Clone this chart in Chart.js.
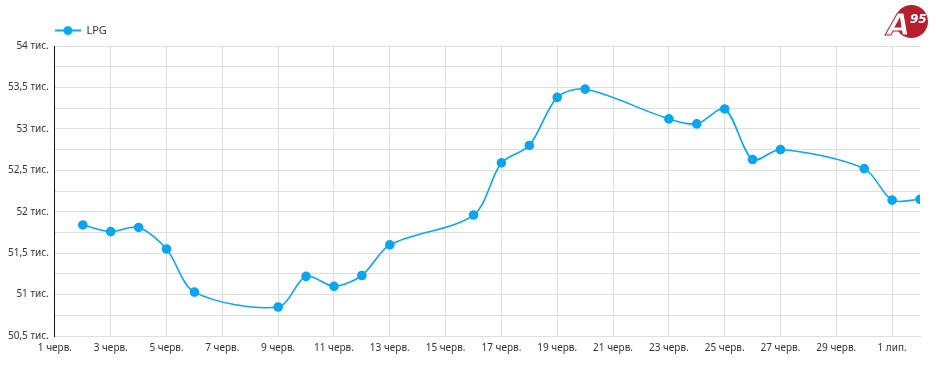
<!DOCTYPE html>
<html>
<head>
<meta charset="utf-8">
<script src="https://cdn.jsdelivr.net/npm/chart.js@4"></script>
<style>
  html, body { margin: 0; padding: 0; background: #fff; }
  #wrap { position: relative; width: 936px; height: 368px; }
  #logo { position: absolute; left: 895px; top: 5px; width: 33px; height: 33px; border-radius: 50%; background: #b71f2e; }
  #logo .a { position: absolute; left: -8px; top: 5px; line-height: 1; font: italic 900 30px/1 "DejaVu Sans", sans-serif; color: #fff; -webkit-text-stroke: 1px #b71f2e; }
  #logo .n { position: absolute; left: 15px; top: 8px; font: italic 700 12px/1 "DejaVu Sans", sans-serif; color: #fff; }
</style>
</head>
<body>
<div id="wrap">
  <canvas id="chart" width="936" height="368"></canvas>
  <div id="logo"><span class="a">A</span><span class="n">95</span></div>
</div>
<script>
// day index counted from 1 June (31 = 1 July, 32 = 2 July)
const days = [2, 3, 4, 5, 6, 9, 10, 11, 12, 13, 16, 17, 18, 19, 20, 23, 24, 25, 26, 27, 30, 31, 32];
const prices = [51840, 51760, 51810, 51550, 51030, 50850, 51220, 51100, 51230, 51600, 51960, 52590, 52800,
  53380, 53480, 53120, 53060, 53240, 52630, 52750, 52520, 52140, 52150];
const xTickDays = [1, 3, 5, 7, 9, 11, 13, 15, 17, 19, 21, 23, 25, 27, 29, 31];
const xTickLabels = ['1 черв.', '3 черв.', '5 черв.', '7 черв.', '9 черв.', '11 черв.', '13 черв.', '15 черв.',
  '17 черв.', '19 черв.', '21 черв.', '23 черв.', '25 черв.', '27 черв.', '29 черв.', '1 лип.'];

const blue = '#0aa6ef';

// legend marker: line with a dot
const marker = document.createElement('canvas');
marker.width = 26; marker.height = 10;
const mc = marker.getContext('2d');
mc.strokeStyle = blue; mc.lineWidth = 2;
mc.beginPath(); mc.moveTo(0, 5); mc.lineTo(26, 5); mc.stroke();
mc.fillStyle = blue;
mc.beginPath(); mc.arc(13, 5, 4.5, 0, Math.PI * 2); mc.fill();

const fmtY = v => (v / 1000).toString().replace('.', ',') + ' тис.';

// move the legend so it starts at the plot's left edge
const legendShift = {
  id: 'legendShift',
  beforeDraw(chart) {
    if (chart.legend) chart.legend.left = chart.chartArea.left - 8;
  }
};

new Chart(document.getElementById('chart'), {
  type: 'line',
  data: {
    datasets: [{
      label: 'LPG',
      data: days.map((d, i) => ({ x: d, y: prices[i] })),
      borderColor: blue,
      backgroundColor: blue,
      borderWidth: 1.6,
      pointRadius: 4,
      pointHoverRadius: 4,
      tension: 0.3
    }]
  },
  options: {
    responsive: false,
    animation: false,
    layout: { padding: { left: 2, right: 16, top: 17, bottom: 8 } },
    scales: {
      x: {
        type: 'linear',
        min: 1,
        max: 32,
        afterBuildTicks: scale => { scale.ticks = xTickDays.map(v => ({ value: v })); },
        grid: { color: '#dedede', drawTicks: false },
        border: { color: '#dedede' },
        ticks: {
          padding: 6,
          maxRotation: 0,
          autoSkip: false,
          color: '#333',
          font: { family: 'Noto Sans', size: 10 },
          callback: v => xTickLabels[xTickDays.indexOf(v)]
        }
      },
      y: {
        min: 50500,
        max: 54000,
        grid: { color: '#dedede', drawTicks: false },
        border: { color: '#111' },
        ticks: {
          stepSize: 250,
          padding: 6,
          color: '#333',
          font: { family: 'Noto Sans', size: 10 },
          callback: v => (v % 500 === 0 ? fmtY(v) : '')
        }
      }
    },
    plugins: {
      tooltip: { enabled: false },
      legend: {
        align: 'start',
        labels: {
          usePointStyle: true,
          pointStyle: marker,
          pointStyleWidth: 26,
          color: '#333',
          padding: 8,
          font: { family: 'Noto Sans', size: 11 }
        }
      }
    }
  },
  plugins: [legendShift]
});
</script>
</body>
</html>
